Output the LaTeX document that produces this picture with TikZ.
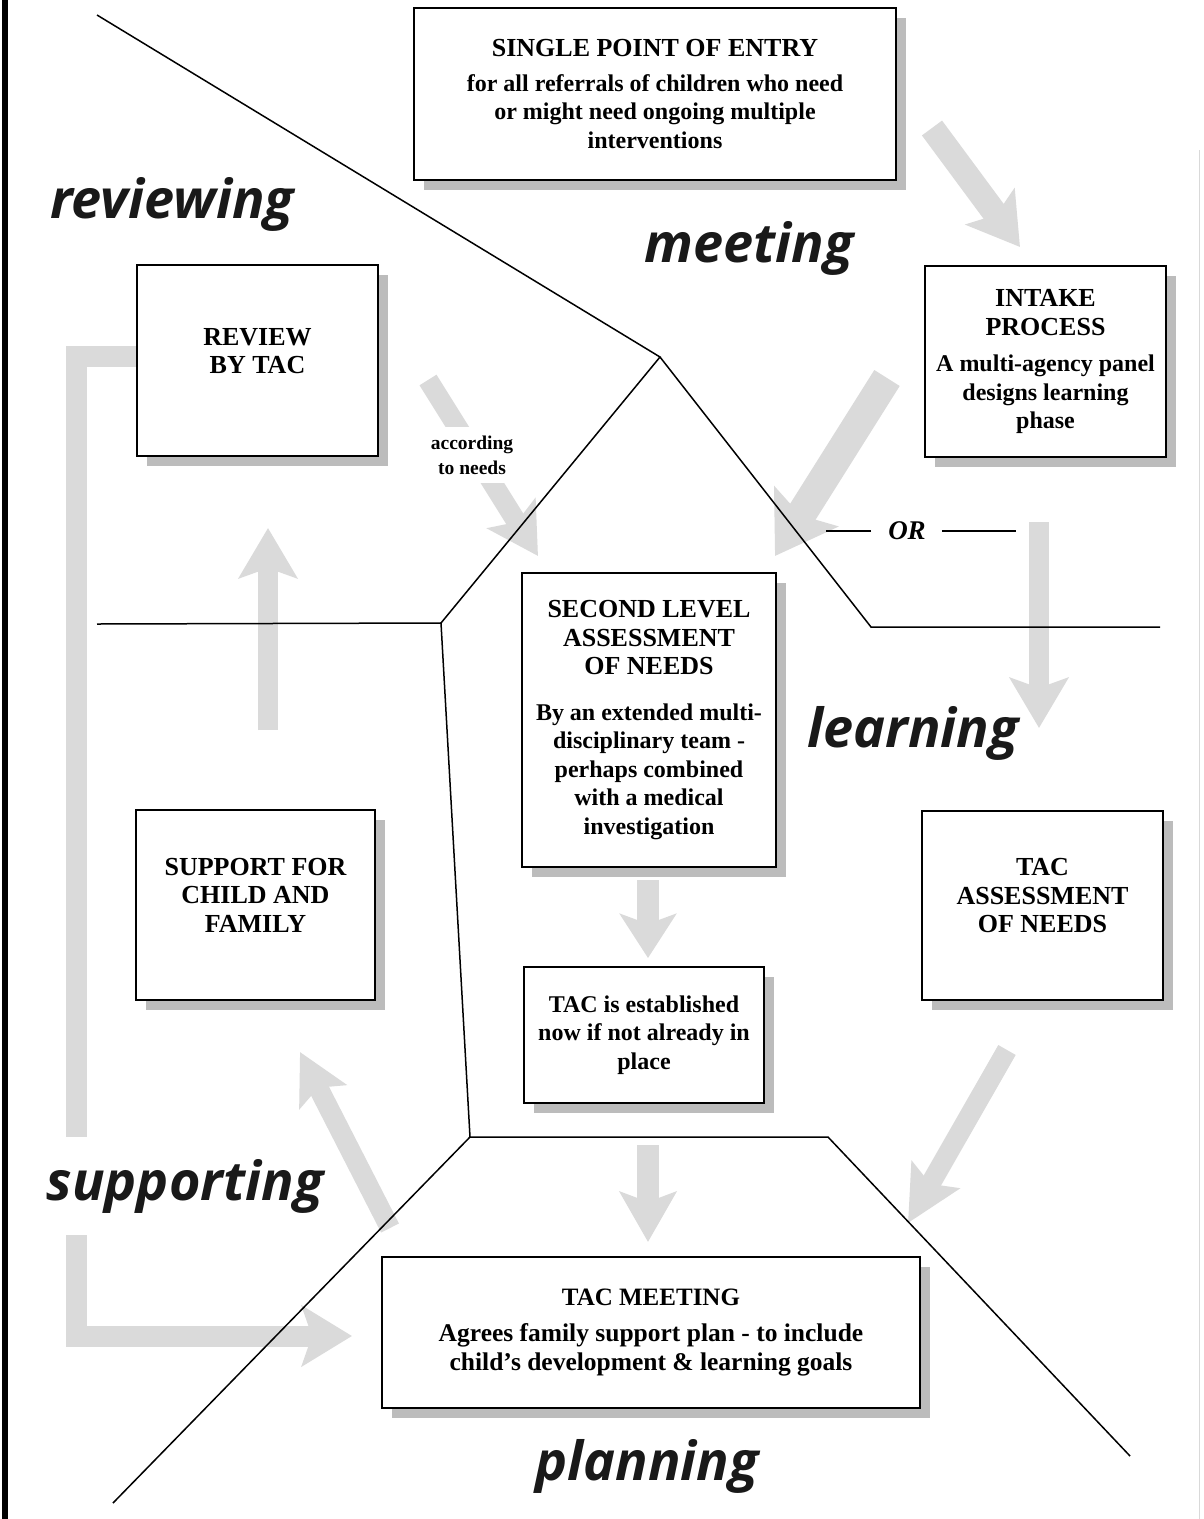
\documentclass[tikz,border=0pt]{standalone}
\usepackage{fontspec}
\setmainfont{Liberation Serif}
\newfontfamily\phasefont{Open Sans}
\usetikzlibrary{arrows.meta,shadows}
\definecolor{arrowgray}{RGB}{218,218,218}
\definecolor{shadowgray}{RGB}{188,188,188}
\tikzset{
  box/.style={draw=black, line width=1.8pt, fill=white, align=center, inner sep=0pt,
    font=\fontsize{24}{28.5}\selectfont\bfseries,
    general shadow={fill=shadowgray, shadow xshift=10pt, shadow yshift=-10pt}},
  sep/.style={line width=1.5pt, draw=black},
  flow/.style={draw=arrowgray, line width=#1, line join=miter},
  flow/.default=21pt,
  head/.style 2 args={-{Stealth[width=#1,length=#2,inset=10pt]}},
  phase/.style={font=\phasefont\bfseries\itshape\fontsize{54}{60}\selectfont, text=black!90, inner sep=0pt},
}
\newcommand{\ttl}[1]{{\fontsize{26}{30}\selectfont #1}}
\begin{document}
\begin{tikzpicture}[x=1pt,y=-1pt]
\useasboundingbox (0,0) rectangle (1203,1519);
\fill[white] (0,0) rectangle (1203,1519);

% page edges
\draw[line width=6pt] (5,0) -- (5,1519);
\draw[line width=1pt, black!15] (1199,150) -- (1199,1519);

% end points of the broad grey flow arrows
\coordinate (a1s) at (932,128);  \coordinate (a1e) at (1020,247);
\coordinate (a2s) at (887,378);  \coordinate (a2e) at (775,556);
\coordinate (a3s) at (428,380);  \coordinate (a3e) at (538,556);
\coordinate (a4s) at (1039,522); \coordinate (a4e) at (1039,728);
\coordinate (a5s) at (268,730);  \coordinate (a5e) at (268,528);
\coordinate (a6s) at (648,880);  \coordinate (a6e) at (648,958);
\coordinate (a7s) at (648,1145); \coordinate (a7e) at (648,1242);
\coordinate (a8s) at (1007,1050);\coordinate (a8e) at (908,1223);
\coordinate (a9s) at (390,1228); \coordinate (a9e) at (300,1052);
\coordinate (a10s) at (137,356); \coordinate (a10e) at (352,1336);

% arrows broken by their labels
\draw[flow=20pt, head={56pt}{50pt}] (a3s) -- (a3e);
\draw[flow=21pt, head={60pt}{50pt}] (a10s) -- (76,356) -- (76,1336) -- (a10e);
\node[fill=white, align=center, font=\fontsize{19.5}{25}\selectfont\bfseries, inner xsep=3pt, inner ysep=9pt]
  (according) at (472,455) {according\\to needs};
\node[phase, fill=white, inner xsep=4pt, inner ysep=22pt, anchor=base] (supporting) at (185,1200) {supporting};

% remaining flow arrows
\draw[flow=25pt, head={60pt}{50pt}] (a1s) -- (a1e);
\draw[flow=30pt, head={74pt}{58pt}] (a2s) -- (a2e);
\draw[flow=20pt, head={58pt}{50pt}] (a4s) -- (a4e);
\draw[flow=20pt, head={58pt}{50pt}] (a5s) -- (a5e);
\draw[flow=22pt, head={56pt}{44pt}] (a6s) -- (a6e);
\draw[flow=22pt, head={56pt}{50pt}] (a7s) -- (a7e);
\draw[flow=20pt, head={54pt}{55pt}] (a8s) -- (a8e);
\draw[flow=20pt, head={52pt}{50pt}] (a9s) -- (a9e);

% phase boundaries
\coordinate (p1) at (97,15);
\coordinate (apex) at (660,357);
\coordinate (lmid) at (441,623);
\coordinate (lleft) at (97,624);
\coordinate (bl) at (470,1137);
\coordinate (br) at (828,1137);
\coordinate (brend) at (1130,1456);
\coordinate (blend) at (113,1503);
\coordinate (rmid) at (871,627);
\coordinate (rright) at (1160,627);
\draw[sep] (p1) -- (apex) -- (lmid) -- (bl) -- (br) -- (brend);
\draw[sep] (lmid) -- (lleft);
\draw[sep] (apex) -- (rmid) -- (rright);
\draw[sep] (bl) -- (blend);

% boxes
\node[box, minimum width=482pt, minimum height=172pt] (spoe) at (655,94)
  {\ttl{SINGLE POINT OF ENTRY}\\[6pt]for all referrals of children who need\\or might need ongoing multiple\\interventions};
\node[box, minimum width=241pt, minimum height=191pt] (review) at (257.5,360.5)
  {\ttl{REVIEW}\\\ttl{BY TAC}\\[-9pt]};
\node[box, minimum width=241pt, minimum height=191pt] (intake) at (1045.5,361.5)
  {\ttl{INTAKE}\\\ttl{PROCESS}\\[8pt]A multi-agency panel\\designs learning\\phase};
\node[box, minimum width=254pt, minimum height=294pt] (second) at (649,720)
  {\ttl{SECOND LEVEL}\\\ttl{ASSESSMENT}\\\ttl{OF NEEDS}\\[17pt]By an extended multi-\\disciplinary team -\\perhaps combined\\with a medical\\investigation};
\node[box, minimum width=240pt, minimum height=136pt] (tacest) at (644,1035)
  {TAC is established\\now if not already in\\place};
\node[box, minimum width=239pt, minimum height=190pt] (support) at (255.5,905)
  {\ttl{SUPPORT FOR}\\\ttl{CHILD AND}\\\ttl{FAMILY}\\[-9pt]};
\node[box, minimum width=241pt, minimum height=189pt] (tacassess) at (1042.5,905.5)
  {\ttl{TAC}\\\ttl{ASSESSMENT}\\\ttl{OF NEEDS}\\[-9pt]};
\node[box, minimum width=538pt, minimum height=151pt, font=\fontsize{25.5}{28.5}\selectfont\bfseries] (meeting) at (651,1332.5)
  {{\fontsize{25}{30}\selectfont TAC MEETING}\\[8pt]Agrees family support plan - to include\\child's development \& learning goals};

% the alternative route
\node[font=\fontsize{27}{30}\selectfont\bfseries\itshape, inner sep=0pt] (or) at (907,531) {OR};
\draw[line width=2.6pt] ([xshift=-17pt]or.west) -- ++(-45,0);
\draw[line width=2.6pt] ([xshift=16pt]or.east) -- ++(74,0);

% phase names
\node[phase, anchor=base] (reviewing) at (172,218) {reviewing};
\node[phase, anchor=base] (meetingl) at (749,262) {meeting};
\node[phase, anchor=base] (learning) at (913,747) {learning};
\node[phase, anchor=base] (planning) at (647,1480) {planning};
\end{tikzpicture}
\end{document}
